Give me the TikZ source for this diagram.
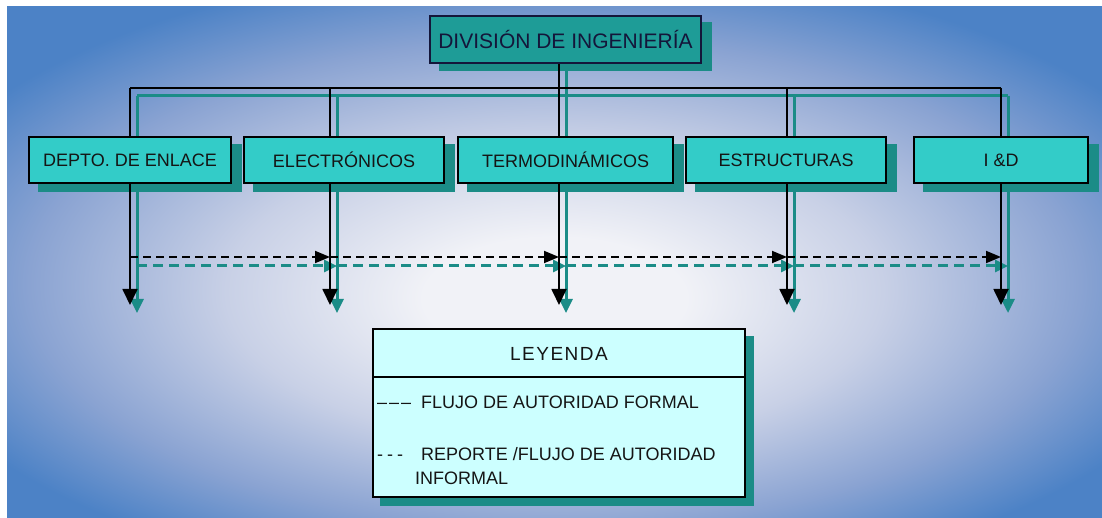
\documentclass[tikz,border=0pt]{standalone}
\usepackage{fontspec}
\setmainfont{Liberation Sans}
\newfontfamily\lsp[LetterSpace=8]{Liberation Sans}
\usetikzlibrary{arrows.meta,calc}
\pgfdeclarelayer{bgl}\pgfdeclarelayer{tll}\pgfdeclarelayer{sbl}\pgfdeclarelayer{bll}
\pgfsetlayers{bgl,tll,sbl,bll,main}
\definecolor{bge}{HTML}{4C82C6}
\definecolor{bg3}{HTML}{8AA3D2}
\definecolor{bg2}{HTML}{C8D0E6}
\definecolor{bgc}{HTML}{F1F2F7}
\definecolor{turq}{HTML}{33CCC8}
\definecolor{topf}{HTML}{1E9C97}
\definecolor{shc}{HTML}{1B8C87}
\definecolor{legf}{HTML}{CCFFFF}
\definecolor{txt}{HTML}{151515}
\definecolor{navy}{HTML}{14163A}
\pgfdeclareradialshading{bgrad}{\pgfpoint{0bp}{-4bp}}{color(0bp)=(bgc); color(6bp)=(bgc); color(15bp)=(bg2); color(24bp)=(bg3); color(31bp)=(bge); color(50bp)=(bge)}
\begin{document}
\begin{tikzpicture}[x=1pt,y=-1pt,
  dept/.style={draw=black, line width=1.3pt, fill=turq, minimum height=46pt, inner sep=0pt,
    font=\fontsize{18}{18}\selectfont, text=txt},
  topbox/.style={draw=navy, line width=1.6pt, fill=topf, minimum height=47pt, inner sep=0pt,
    font=\fontsize{21}{21}\selectfont, text=navy},
  legbox/.style={draw=black, line width=1.3pt, fill=legf, inner sep=0pt},
  lt/.style={inner sep=0pt, font=\fontsize{18}{18}\selectfont, text=txt},
  sh/.style={shift={(7,8)}},
  blk/.style={draw=black, line width=1.8pt},
  tl/.style={draw=shc, line width=3pt},
  blkd/.style={draw=black, line width=1.8pt, dash pattern=on 8pt off 5pt},
  tld/.style={draw=shc, line width=3pt, dash pattern=on 10pt off 6pt},
  barr/.style={-{Triangle[length=16pt,width=15pt]}},
  tarr/.style={-{Triangle[length=14pt,width=13pt]}},
  bdarr/.style={-{Triangle[length=15pt,width=12pt]}},
  tdarr/.style={-{Triangle[length=13pt,width=12pt]}}
]
\useasboundingbox (0,0) rectangle (1102,518);

% nodes
\node[topbox, minimum width=271pt] (top) at (565.5,39.5) {DIVISIÓN DE INGENIERÍA};
\node[dept, minimum width=202pt] (b1) at (130,160) {DEPTO. DE ENLACE};
\node[dept, minimum width=200pt] (b2) at (344,160) {ELECTRÓNICOS};
\node[dept, minimum width=215pt] (b3) at (565.5,160) {TERMODINÁMICOS};
\node[dept, minimum width=200pt] (b4) at (786,160) {ESTRUCTURAS};
\node[dept, minimum width=174pt] (b5) at (1001,160) {I \&D};
\node[legbox, minimum width=372pt, minimum height=168pt] (leg) at (559,413) {};

\node[inner sep=0pt, anchor=base, font=\lsp\fontsize{19}{19}\selectfont, text=txt] (legt) at (559,360) {LEYENDA};
\node[lt, anchor=base west] (l1) at (377,408) {\makebox[44pt][l]{\textendash\kern2pt\textendash\kern2pt\textendash}FLUJO DE AUTORIDAD FORMAL};
\node[lt, anchor=base west] (l2) at (377,460) {\makebox[44pt][l]{-\kern4pt-\kern4pt-}REPORTE /FLUJO DE AUTORIDAD};
\node[lt, anchor=base west] (l3) at (415,484) {INFORMAL};
\coordinate (dv) at (0,377);
\draw[line width=1.3pt] (leg.west |- dv) -- (leg.east |- dv);

% coordinates
\coordinate (t0) at (559,63);
\coordinate (j0) at (559,88);
\coordinate (j1) at (130,88);
\coordinate (j2) at (330,88);
\coordinate (j3) at (559,88);
\coordinate (j4) at (787,88);
\coordinate (j5) at (1001,88);
\coordinate (e1) at (130,305);
\coordinate (e2) at (330,305);
\coordinate (e3) at (559,305);
\coordinate (e4) at (787,305);
\coordinate (e5) at (1001,305);
\coordinate (d1) at (130,257);
\coordinate (d2) at (330,257);
\coordinate (d3) at (559,257);
\coordinate (d4) at (787,257);
\coordinate (d5) at (1001,257);

% background
\begin{pgfonlayer}{bgl}
\fill[white] (0,0) rectangle (1102,518);
\shade[shading=bgrad] (7,7) rectangle (1102,518);
\end{pgfonlayer}

% teal shadow lines
\begin{pgfonlayer}{tll}
\draw[tl] ([sh]t0) -- ([sh]j0);
\draw[tl] ([sh]j1) -- ([sh]j5);
\foreach \i in {1,...,5}{
  \draw[tl, tarr] ([sh]j\i) -- ([sh]e\i);
}
\foreach \a/\b in {1/2,2/3,3/4,4/5}{
  \draw[tld, tdarr] ([shift={(7,9)}]d\a) -- ([shift={(7,9)}]d\b);
}
\end{pgfonlayer}

% box shadows
\begin{pgfonlayer}{sbl}
\fill[shc] ([shift={(10,7)}]top.north west) rectangle ([shift={(10,7)}]top.south east);
\foreach \n in {b1,b2,b3,b4,b5}{
  \fill[shc] ([shift={(10,8)}]\n.north west) rectangle ([shift={(10,8)}]\n.south east);
}
\fill[shc] ([shift={(8,8)}]leg.north west) rectangle ([shift={(8,8)}]leg.south east);
\end{pgfonlayer}

% black lines
\begin{pgfonlayer}{bll}
\draw[blk] (t0) -- (j0);
\draw[blk] (j1) -- (j5);
\foreach \i in {1,...,5}{
  \draw[blk, barr] (j\i) -- (e\i);
}
\foreach \a/\b in {1/2,2/3,3/4,4/5}{
  \draw[blkd, bdarr] (d\a) -- (d\b);
}
\end{pgfonlayer}
\end{tikzpicture}
\end{document}
